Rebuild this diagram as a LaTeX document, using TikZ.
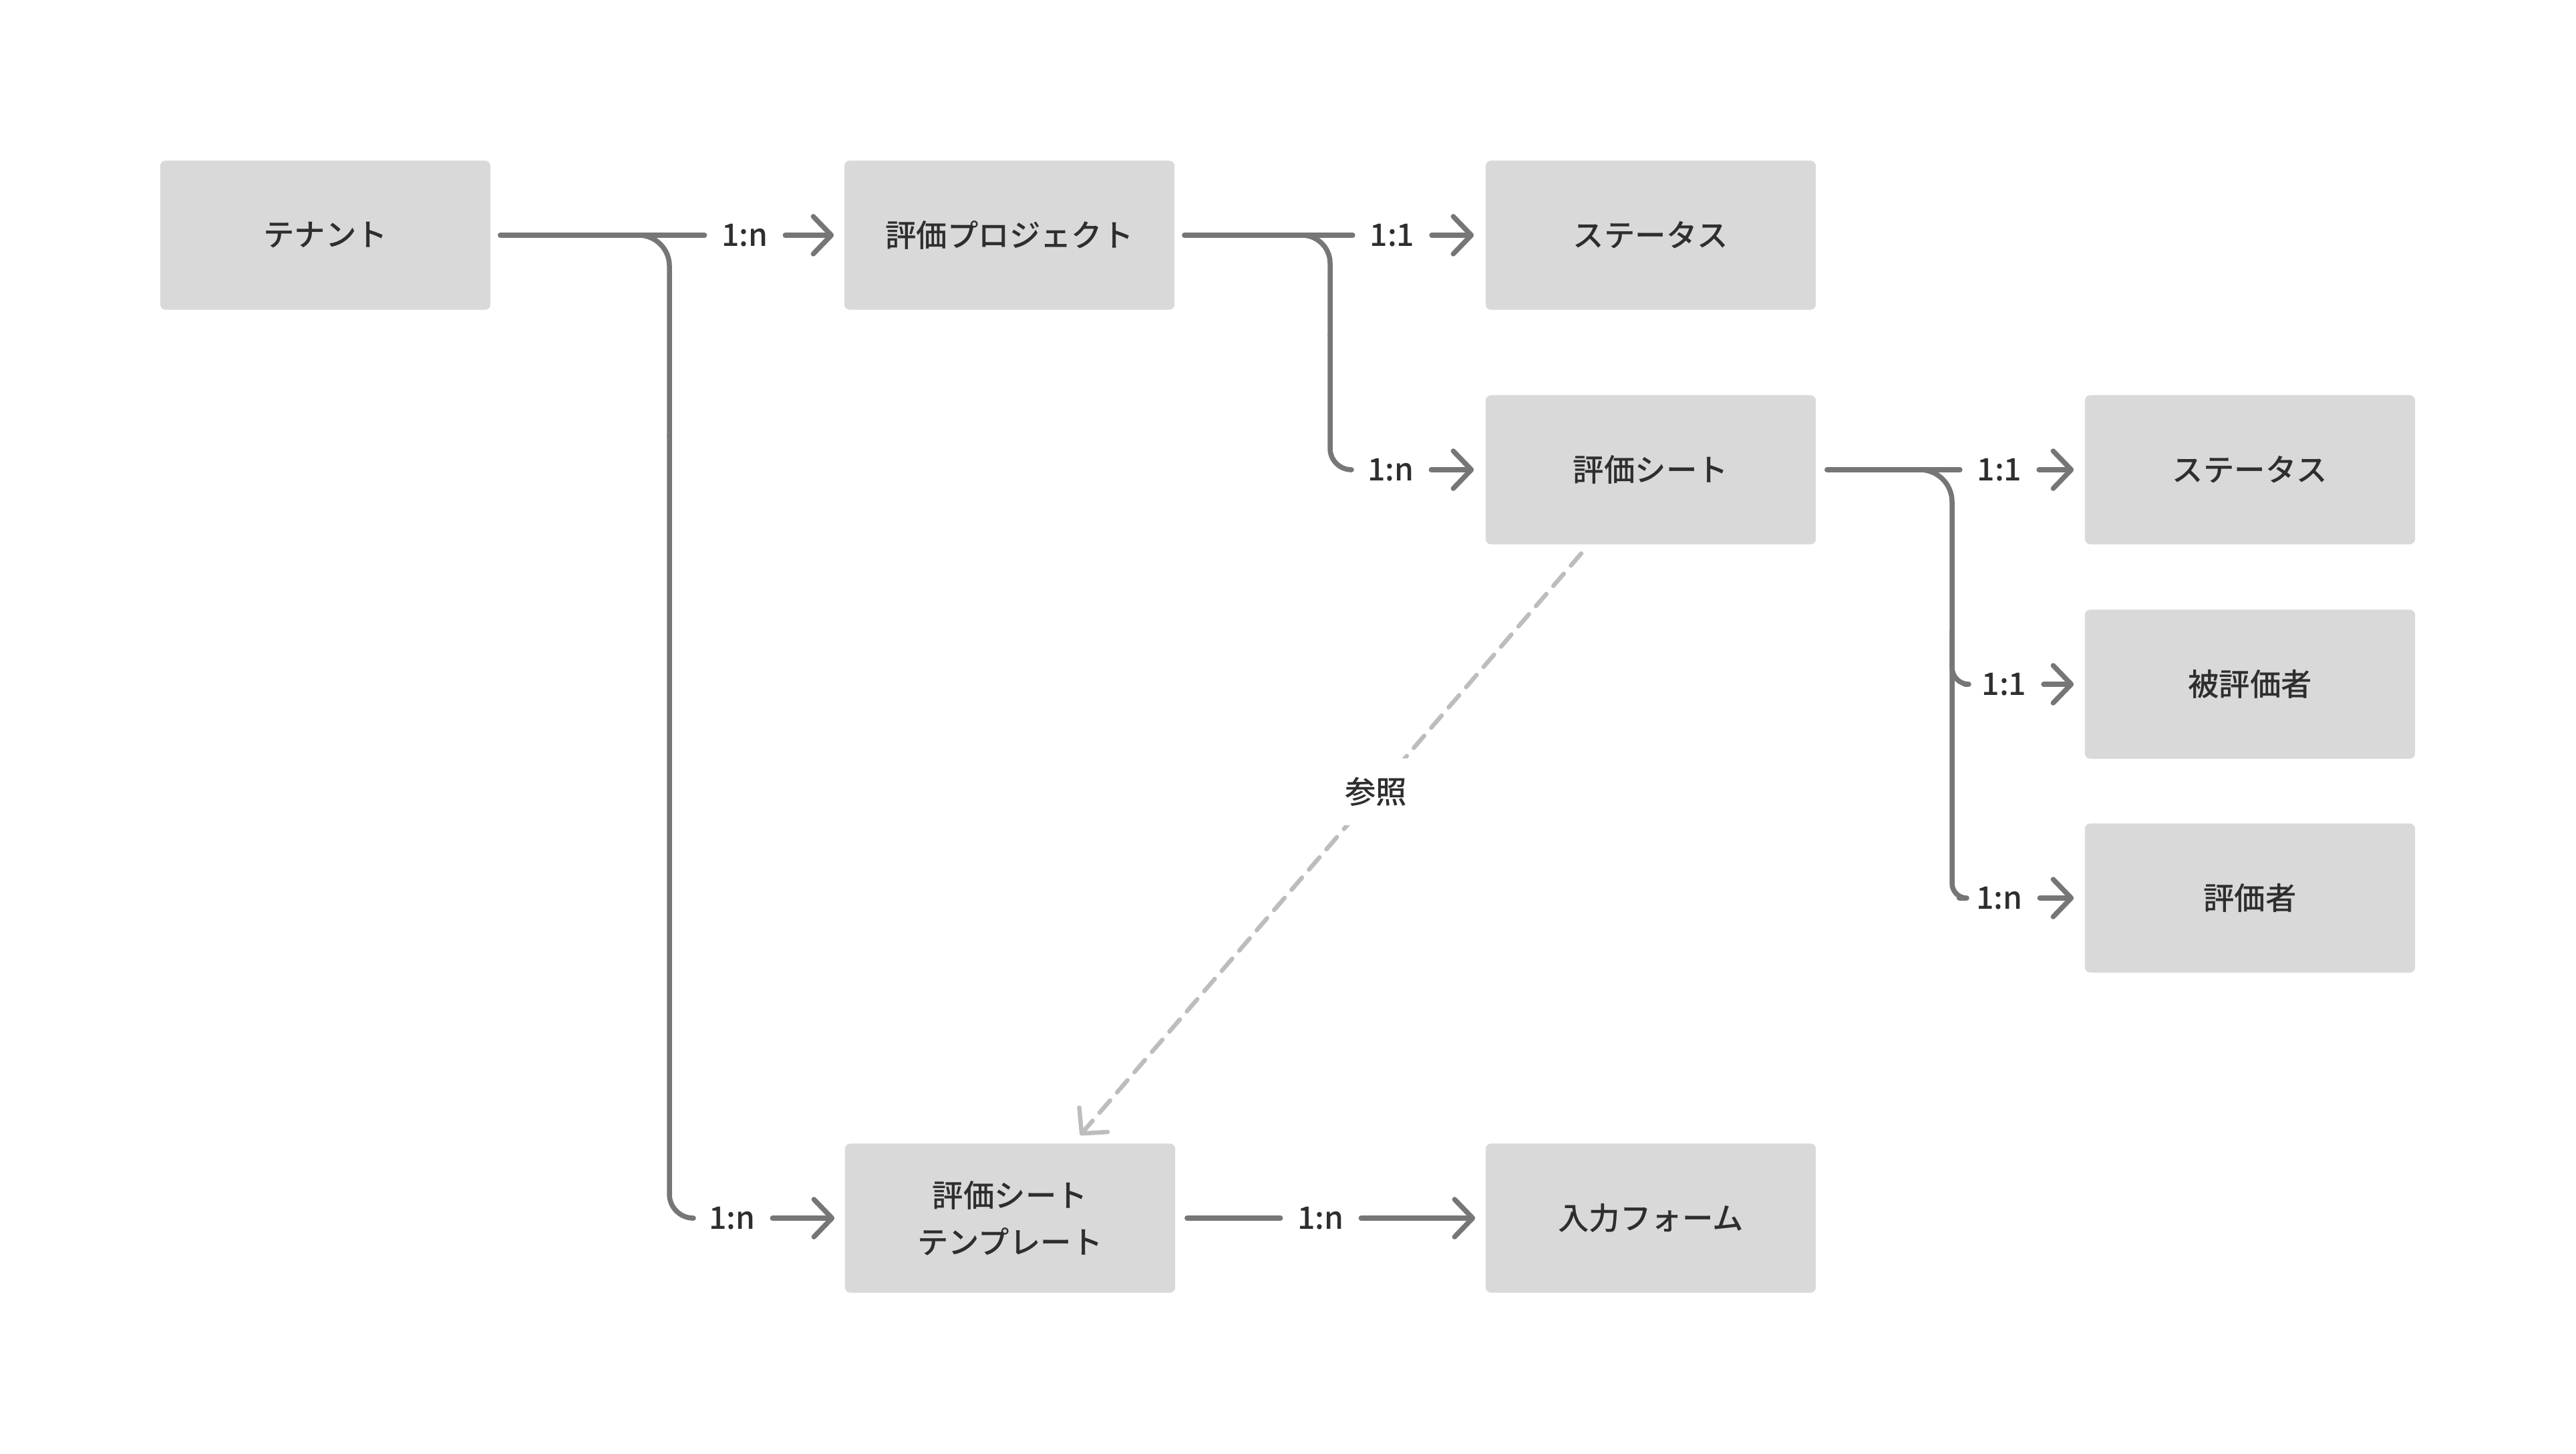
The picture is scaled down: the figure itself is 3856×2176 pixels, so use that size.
\documentclass[tikz,border=0pt]{standalone}
\usepackage{fontspec}
\setmainfont{Noto Sans CJK JP}[UprightFont=* Medium]
\usetikzlibrary{arrows.meta,calc}
\definecolor{boxgray}{HTML}{D9D9D9}
\definecolor{linegray}{HTML}{767676}
\definecolor{refgray}{HTML}{BDBDBD}
\definecolor{txt}{HTML}{2E2E2E}
\begin{document}
\begin{tikzpicture}[x=0.01cm,y=-0.01cm,
  entity/.style={fill=boxgray, rounded corners=0.08cm, minimum width=4.94cm, minimum height=2.23cm,
    text=txt, font=\fontsize{13.2}{20}\selectfont, align=center, inner sep=0pt},
  card/.style={text=txt, font=\fontsize{13.2}{16}\selectfont, inner xsep=0.25cm, inner ysep=0.1cm},
  conn/.style={draw=linegray, line width=0.075cm, line cap=round, line join=round},
  arr/.style={conn, -{Straight Barb[length=0.27cm,width=0.56cm,round]}},
  refline/.style={draw=refgray, line width=0.065cm, line cap=round, dash pattern=on 0.24cm off 0.16cm,
    -{Straight Barb[length=0.27cm,width=0.56cm,round]}},
  reflabel/.style={fill=white, text=txt, font=\fontsize{13.2}{16}\selectfont, inner xsep=0.15cm, inner ysep=0.28cm}
]
\fill[white] (0,0) rectangle (3856,2176);
\useasboundingbox (0,0) rectangle (3856,2176);

% entities
\node[entity] (ten)   at (487,352)   {テナント};
\node[entity] (proj)  at (1511,352)  {評価プロジェクト};
\node[entity] (st1)   at (2471,352)  {ステータス};
\node[entity] (sheet) at (2471,703)  {評価シート};
\node[entity] (st2)   at (3368,703)  {ステータス};
\node[entity] (ratee) at (3368,1024) {被評価者};
\node[entity] (rater) at (3368,1344) {評価者};
\node[entity] (tmpl)  at (1512,1823) {評価シート\\テンプレート};
\node[entity] (form)  at (2471,1823) {入力フォーム};

% cardinality labels
\node[card] (c1) at (1115,352)  {1:n};
\node[card] (c2) at (2084,352)  {1:1};
\node[card] (c3) at (2082,703)  {1:n};
\node[card] (c4) at (2993,703)  {1:1};
\node[card] (c5) at (3000,1024) {1:1};
\node[card] (c6) at (2993,1344) {1:n};
\node[card] (c7) at (1096,1823) {1:n};
\node[card] (c8) at (1977,1823) {1:n};

% テナント
\draw[conn] ([xshift=0.14cm]ten.east) -- (c1.west);
\draw[arr] (c1.east) -- ([xshift=-0.15cm]proj.west);
\coordinate (v1) at (1002,352);
\draw[conn, rounded corners=0.46cm] ($(v1)+(-70,0)$) -- (v1) -- ($(v1)+(0,300)$);
\draw[conn, rounded corners=0.36cm] ($(v1)+(0,300)$) -- (v1 |- c7) -- (c7.west);
\draw[arr] (c7.east) -- ([xshift=-0.15cm]tmpl.west);

% 評価プロジェクト
\draw[conn] ([xshift=0.14cm]proj.east) -- (c2.west);
\draw[arr] (c2.east) -- ([xshift=-0.17cm]st1.west);
\coordinate (v2) at (1991,352);
\draw[conn, rounded corners=0.42cm] ($(v2)+(-60,0)$) -- (v2) -- ($(v2)+(0,150)$);
\draw[conn, rounded corners=0.32cm] ($(v2)+(0,150)$) -- (v2 |- c3) -- (c3.west);
\draw[arr] (c3.east) -- ([xshift=-0.17cm]sheet.west);

% 評価シート
\draw[conn] ([xshift=0.16cm]sheet.east) -- (c4.west);
\draw[arr] (c4.east) -- ([xshift=-0.16cm]st2.west);
\coordinate (v3) at (2922,703);
\draw[conn, rounded corners=0.48cm] ($(v3)+(-70,0)$) -- (v3) -- ($(v3)+(0,200)$);
\draw[conn, rounded corners=0.22cm] ($(v3)+(0,200)$) -- (v3 |- c6) -- (c6.west);
\draw[conn, rounded corners=0.25cm] ($(v3 |- c5)+(0,-80)$) -- (v3 |- c5) -- (c5.west);
\draw[arr] (c5.east) -- ([xshift=-0.16cm]ratee.west);
\draw[arr] (c6.east) -- ([xshift=-0.16cm]rater.west);

% テンプレート -> 入力フォーム
\draw[conn] ([xshift=0.17cm]tmpl.east) -- (c8.west);
\draw[arr] (c8.east) -- ([xshift=-0.15cm]form.west);

% 参照
\draw[refline] ($(sheet.south)+(-104,13)$) -- node[reflabel, pos=0.41] (ref) {参照} ($(tmpl.north)+(105,-12)$);
\end{tikzpicture}
\end{document}
